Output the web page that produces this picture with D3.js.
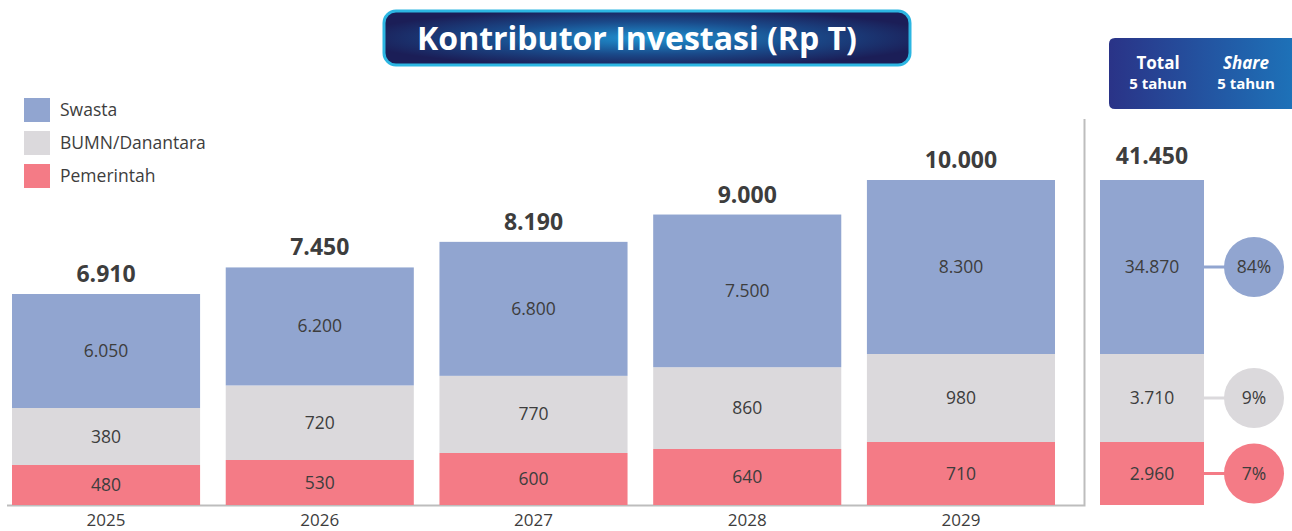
<!DOCTYPE html>
<html>
<head>
<meta charset="utf-8">
<script src="https://cdn.jsdelivr.net/npm/d3@7"></script>
<style>
  body { margin: 0; background: #fff; }
  svg { display: block; font-family: "Open Sans", "Noto Sans", sans-serif; }
</style>
</head>
<body>
<svg id="chart" width="1292" height="531"></svg>
<script>
// data
const years = ["2025", "2026", "2027", "2028", "2029"];
const swasta = [6050, 6200, 6800, 7500, 8300];
const bumn = [380, 720, 770, 860, 980];
const pemerintah = [480, 530, 600, 640, 710];
const totals = [6910, 7450, 8190, 9000, 10000];

const seriesNames = ["Swasta", "BUMN/Danantara", "Pemerintah"];
const total5 = [34870, 3710, 2960]; // swasta, bumn, pemerintah
const grandTotal = 41450;
const shares = [84, 9, 7];

const colors = { Swasta: "#91a5d0", "BUMN/Danantara": "#dbd9dc", Pemerintah: "#f47b86" };
const textColor = "#3d3d3d";

const base = 505; // bottom of the bars
const svg = d3.select("#chart");

const idLocale = d3.formatLocale({ decimal: ",", thousands: ".", grouping: [3], currency: ["Rp", ""] });
const fmt = idLocale.format(",");

// x positions
const x = d3.scaleBand().domain(years).range([12, 1055]).paddingInner(0.12).paddingOuter(0);
const xTotal = { x0: 1100, w: 104 };

// the original is not drawn to scale, each series gets its own height scale
const hScales = {
    Swasta: d3.scaleLinear().domain(d3.extent(swasta)).range([114, 174]),
    "BUMN/Danantara": d3.scaleLinear().domain(d3.extent(bumn)).range([57, 88]),
    Pemerintah: d3.scaleLinear().domain(d3.extent(pemerintah)).range([40, 63])
};

// build a stack from the bottom: pemerintah, bumn, swasta
function stack(values) {
    const order = ["Pemerintah", "BUMN/Danantara", "Swasta"];
    let y = base;
    return order.map((name, i) => {
        const h = hScales[name](values[i].h);
        const seg = { name, value: values[i].v, y0: y - h, y1: y };
        y -= h;
        return seg;
    });
}

const defs = svg.append("defs");
const rg = defs.append("radialGradient").attr("id", "titleGrad").attr("cx", "50%").attr("cy", "50%").attr("r", "55%");
rg.append("stop").attr("offset", "0%").attr("stop-color", "#1f92d1");
rg.append("stop").attr("offset", "55%").attr("stop-color", "#1a4a8a");
rg.append("stop").attr("offset", "100%").attr("stop-color", "#1b1e57");
const lg = defs.append("linearGradient").attr("id", "headGrad").attr("x1", "0%").attr("x2", "100%");
lg.append("stop").attr("offset", "0%").attr("stop-color", "#2a3387");
lg.append("stop").attr("offset", "100%").attr("stop-color", "#1d74ba");

// title
svg.append("rect")
    .attr("x", 384).attr("y", 11).attr("width", 526).attr("height", 54).attr("rx", 12)
    .attr("fill", "url(#titleGrad)").attr("stroke", "#2cb6e2").attr("stroke-width", 3);
svg.append("text")
    .attr("x", 637).attr("y", 50).attr("text-anchor", "middle")
    .attr("fill", "#fff").attr("font-weight", 700).attr("font-size", 32)
    .text("Kontributor Investasi (Rp T)");

// header box for the total column
svg.append("path")
    .attr("d", "M1115,38 H1300 V109 H1115 Q1109,109 1109,103 V44 Q1109,38 1115,38 Z")
    .attr("fill", "url(#headGrad)");
const head = svg.append("g").attr("fill", "#fff").attr("font-weight", 700).attr("text-anchor", "middle");
head.append("text").attr("x", 1158).attr("y", 69).attr("font-size", 17).text("Total");
head.append("text").attr("x", 1158).attr("y", 89).attr("font-size", 15).text("5 tahun");
head.append("text").attr("x", 1246).attr("y", 69).attr("font-size", 17).attr("font-style", "italic").text("Share");
head.append("text").attr("x", 1246).attr("y", 89).attr("font-size", 15).text("5 tahun");

// legend
const legend = svg.append("g").selectAll("g").data(seriesNames).join("g")
    .attr("transform", (d, i) => `translate(24,${98 + i * 33})`);
legend.append("rect").attr("width", 26).attr("height", 24).attr("fill", d => colors[d]);
legend.append("text").attr("x", 36).attr("y", 18).attr("font-size", 17.5).attr("fill", textColor).text(d => d);

// baseline + separator
svg.append("path")
    .attr("d", `M7,${base + 0.5} H1084.5 V119`)
    .attr("fill", "none").attr("stroke", "#bdbdbd").attr("stroke-width", 2);

// yearly bars
const yearData = years.map((yr, i) => ({
    year: yr,
    total: totals[i],
    segs: stack([
        { v: pemerintah[i], h: pemerintah[i] },
        { v: bumn[i], h: bumn[i] },
        { v: swasta[i], h: swasta[i] }
    ])
}));

const bars = svg.append("g").selectAll("g").data(yearData).join("g")
    .attr("transform", d => `translate(${x(d.year)},0)`);

bars.selectAll("rect").data(d => d.segs).join("rect")
    .attr("x", 0).attr("width", x.bandwidth())
    .attr("y", d => d.y0).attr("height", d => d.y1 - d.y0)
    .attr("fill", d => colors[d.name]);

bars.selectAll("text.val").data(d => d.segs).join("text")
    .attr("class", "val")
    .attr("x", x.bandwidth() / 2).attr("y", d => (d.y0 + d.y1) / 2 + 6)
    .attr("text-anchor", "middle").attr("font-size", 17.5).attr("fill", textColor)
    .text(d => fmt(d.value));

bars.append("text")
    .attr("x", x.bandwidth() / 2).attr("y", d => d.segs[2].y0 - 12)
    .attr("text-anchor", "middle").attr("font-size", 23).attr("font-weight", 700).attr("fill", textColor)
    .text(d => fmt(d.total));

bars.append("text")
    .attr("x", x.bandwidth() / 2).attr("y", 526)
    .attr("text-anchor", "middle").attr("font-size", 17).attr("fill", textColor)
    .text(d => d.year);

// 5-year total column, drawn at the size of the largest yearly segments
const totSegs = stack([
    { v: total5[2], h: d3.max(pemerintah) },
    { v: total5[1], h: d3.max(bumn) },
    { v: total5[0], h: d3.max(swasta) }
]);
const shareOf = { Swasta: shares[0], "BUMN/Danantara": shares[1], Pemerintah: shares[2] };

const tot = svg.append("g").attr("transform", `translate(${xTotal.x0},0)`);
tot.selectAll("rect").data(totSegs).join("rect")
    .attr("x", 0).attr("width", xTotal.w)
    .attr("y", d => d.y0).attr("height", d => d.y1 - d.y0)
    .attr("fill", d => colors[d.name]);
tot.selectAll("text.val").data(totSegs).join("text")
    .attr("class", "val")
    .attr("x", xTotal.w / 2).attr("y", d => (d.y0 + d.y1) / 2 + 6)
    .attr("text-anchor", "middle").attr("font-size", 17.5).attr("fill", textColor)
    .text(d => fmt(d.value));
tot.append("text")
    .attr("x", xTotal.w / 2).attr("y", totSegs[2].y0 - 16)
    .attr("text-anchor", "middle").attr("font-size", 23).attr("font-weight", 700).attr("fill", textColor)
    .text(fmt(grandTotal));

// share bubbles
const bubble = tot.selectAll("g.share").data(totSegs).join("g")
    .attr("class", "share")
    .attr("transform", d => `translate(0,${(d.y0 + d.y1) / 2})`);
bubble.append("line")
    .attr("x1", xTotal.w).attr("x2", 130).attr("y1", 0).attr("y2", 0)
    .attr("stroke", d => colors[d.name]).attr("stroke-width", 3);
bubble.append("circle")
    .attr("cx", 154).attr("r", 30).attr("fill", d => colors[d.name]);
bubble.append("text")
    .attr("x", 154).attr("y", 6).attr("text-anchor", "middle")
    .attr("font-size", 17.5).attr("fill", textColor)
    .text(d => shareOf[d.name] + "%");
</script>
</body>
</html>
